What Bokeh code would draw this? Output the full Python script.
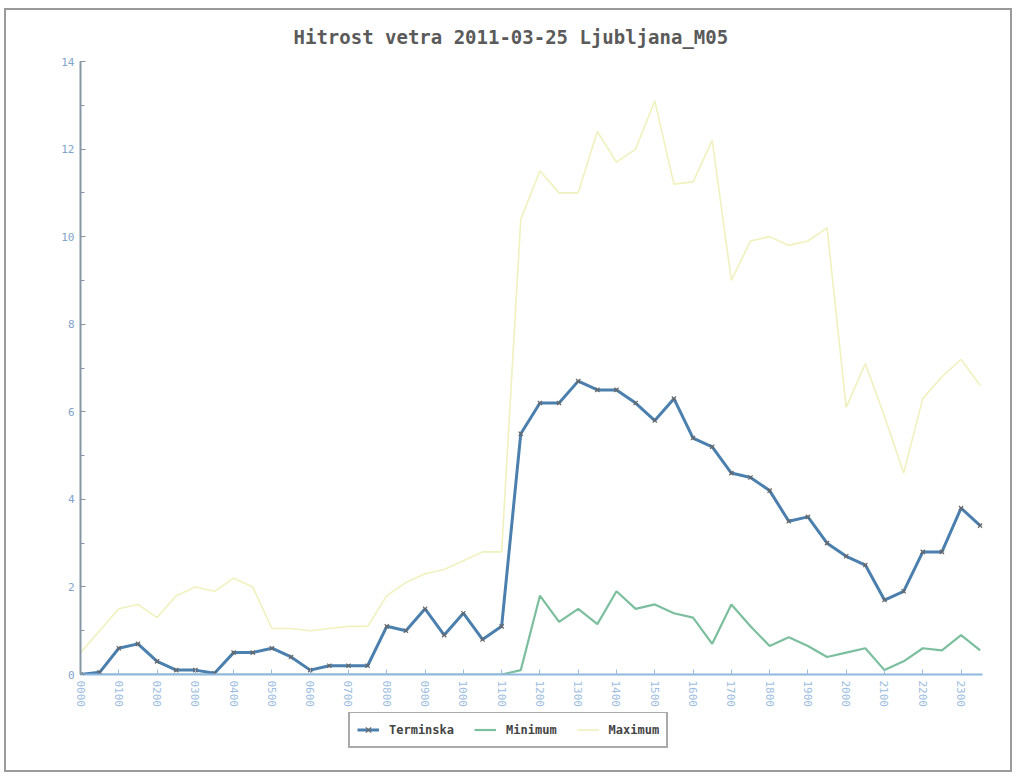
from bokeh.plotting import figure
from bokeh.layouts import column
from bokeh.models import FixedTicker, Legend, LegendItem, Range1d, SingleIntervalTicker
from bokeh.embed import file_html
from bokeh.resources import INLINE

# hourly tick labels
hour_labels = ["0000", "0100", "0200", "0300", "0400", "0500", "0600", "0700",
               "0800", "0900", "1000", "1100", "1200", "1300", "1400", "1500",
               "1600", "1700", "1800", "1900", "2000", "2100", "2200", "2300"]

# half-hourly observations 00:00 .. 23:30
terminska = [0.0, 0.05, 0.6, 0.7, 0.3, 0.1, 0.1, 0.03, 0.5, 0.5, 0.6, 0.4,
             0.1, 0.2, 0.2, 0.2, 1.1, 1.0, 1.5, 0.9, 1.4, 0.8, 1.1, 5.5,
             6.2, 6.2, 6.7, 6.5, 6.5, 6.2, 5.8, 6.3, 5.4, 5.2, 4.6, 4.5,
             4.2, 3.5, 3.6, 3.0, 2.7, 2.5, 1.7, 1.9, 2.8, 2.8, 3.8, 3.4]

minimum = [0.0, 0.0, 0.0, 0.0, 0.0, 0.0, 0.0, 0.0, 0.0, 0.0, 0.0, 0.0,
           0.0, 0.0, 0.0, 0.0, 0.0, 0.0, 0.0, 0.0, 0.0, 0.0, 0.0, 0.1,
           1.8, 1.2, 1.5, 1.15, 1.9, 1.5, 1.6, 1.4, 1.3, 0.7, 1.6, 1.1,
           0.65, 0.85, 0.65, 0.4, 0.5, 0.6, 0.1, 0.3, 0.6, 0.55, 0.9, 0.55]

maximum = [0.5, 1.0, 1.5, 1.6, 1.3, 1.8, 2.0, 1.9, 2.2, 2.0, 1.05, 1.05,
           1.0, 1.05, 1.1, 1.1, 1.8, 2.1, 2.3, 2.4, 2.6, 2.8, 2.8, 10.4,
           11.5, 11.0, 11.0, 12.4, 11.7, 12.0, 13.1, 11.2, 11.25, 12.2, 9.0, 9.9,
           10.0, 9.8, 9.9, 10.2, 6.1, 7.1, 5.9, 4.6, 6.3, 6.8, 7.2, 6.6]

times = [i / 2 for i in range(len(terminska))]

FONT = "DejaVu Sans Mono"
C_TERM = "#4a7fae"
C_MIN = "#7cbf9f"
C_MAX = "#f1f1bf"

p = figure(width=1004, height=702, output_backend="svg", toolbar_location=None,
           x_range=Range1d(0, 23.56), y_range=Range1d(0, 14),
           min_border_left=74, min_border_right=28, min_border_top=50,
           min_border_bottom=38)

p.outline_line_color = None
p.grid.visible = False
p.background_fill_color = "white"
p.border_fill_color = "white"

p.title.text = "Hitrost vetra 2011-03-25 Ljubljana_M05"
p.title.text_font = FONT
p.title.text_font_size = "19px"
p.title.text_font_style = "bold"
p.title.text_color = "#5a5a5a"
p.title.align = "left"
p.title.offset = 213
p.title.standoff = 27

p.line(times, maximum, line_color=C_MAX, line_width=1.6)
p.line(times, minimum, line_color=C_MIN, line_width=2.2)
p.line(times, terminska, line_color=C_TERM, line_width=3)
p.scatter(times, terminska, marker="x", size=6, line_color="#666666", line_width=1.2)

# x axis
xa = p.xaxis[0]
xa.ticker = FixedTicker(ticks=list(range(len(hour_labels))))
xa.major_label_overrides = {i: lab for i, lab in enumerate(hour_labels)}
xa.major_label_orientation = "vertical"
xa.major_label_text_font = FONT
xa.major_label_text_font_size = "11px"
xa.major_label_text_color = "#9dbde0"
xa.axis_line_color = "#8fb8e0"
xa.axis_line_width = 2
xa.major_tick_line_color = "#9dbde0"
xa.major_tick_in = 5
xa.major_tick_out = 0
xa.minor_tick_line_color = None
xa.major_label_standoff = 6

# y axis
ya = p.yaxis[0]
ya.ticker = SingleIntervalTicker(interval=2, num_minor_ticks=2)
ya.major_label_text_font = FONT
ya.major_label_text_font_size = "11px"
ya.major_label_text_color = "#7fa3cc"
ya.axis_line_color = "#8595a5"
ya.axis_line_width = 2
ya.major_tick_line_color = "#8595a5"
ya.major_tick_in = 5
ya.major_tick_out = 0
ya.minor_tick_line_color = "#8595a5"
ya.minor_tick_in = 4
ya.minor_tick_out = 0
ya.major_label_standoff = 6

# legend strip below the chart (proxy glyphs lie outside its ranges)
lf = figure(width=1004, height=58, output_backend="svg", toolbar_location=None,
            x_range=Range1d(0, 1), y_range=Range1d(0, 1),
            x_axis_location=None, y_axis_location=None, min_border=0)
lf.outline_line_color = None
lf.grid.visible = False
lf.background_fill_color = "white"
lf.border_fill_color = "white"
l_term = lf.line([-2, -1], [-2, -2], line_color=C_TERM, line_width=3)
l_term_pts = lf.scatter([-2], [-2], marker="x", size=6, line_color="#666666", line_width=1.2)
l_min = lf.line([-2, -1], [-2, -2], line_color=C_MIN, line_width=2.2)
l_max = lf.line([-2, -1], [-2, -2], line_color=C_MAX, line_width=1.6)

legend = Legend(items=[LegendItem(label="Terminska", renderers=[l_term, l_term_pts]),
                       LegendItem(label="Minimum", renderers=[l_min]),
                       LegendItem(label="Maximum", renderers=[l_max])],
                orientation="horizontal", location=(268, 22))
legend.label_text_font = FONT
legend.label_text_font_size = "12px"
legend.label_text_font_style = "bold"
legend.label_text_color = "#444444"
legend.border_line_color = "#555555"
legend.border_line_width = 2
legend.padding = 7
legend.margin = 0
legend.spacing = 20
legend.glyph_width = 22
legend.glyph_height = 19
legend.label_height = 19
legend.label_standoff = 10
legend.background_fill_alpha = 1
lf.add_layout(legend, "center")

layout = column(p, lf, spacing=0,
                styles={"border": "2px solid #9a9a9a", "margin-left": "4px", "margin-top": "8px"})

open("out.html", "w").write(file_html(layout, INLINE))
